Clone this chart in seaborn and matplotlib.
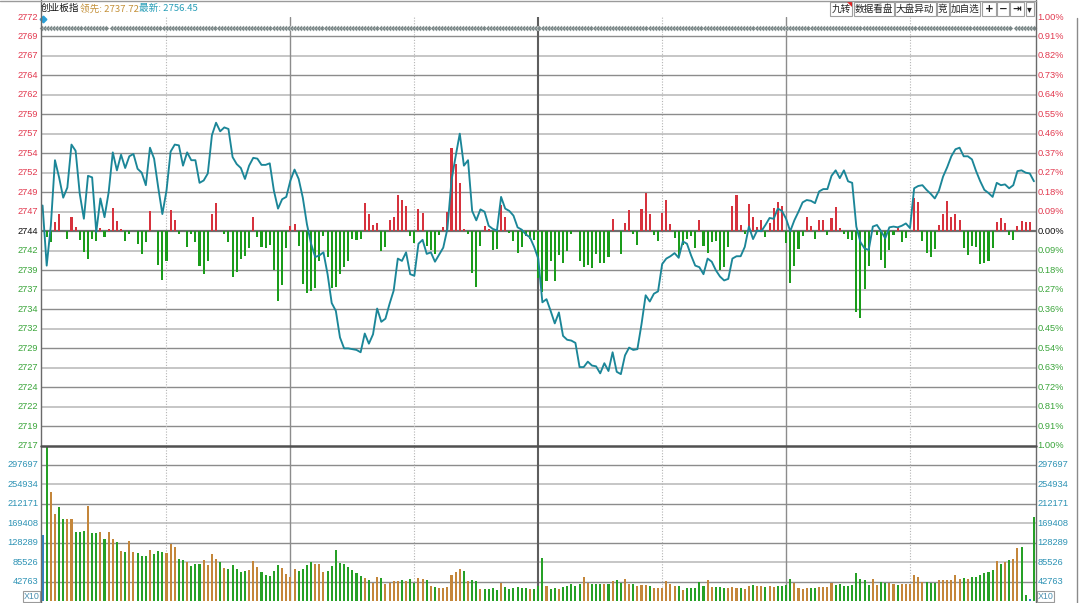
import numpy as np
import pandas as pd
import matplotlib
matplotlib.use("Agg")
import matplotlib.pyplot as plt
import seaborn as sns
from matplotlib.patches import Rectangle, Polygon
from matplotlib.lines import Line2D

sns.set_theme(style="white")
plt.rcParams['font.family'] = ['Liberation Sans', 'Noto Sans CJK SC', 'DejaVu Sans']

# ---------------- data ----------------
PREV_CLOSE = 2744.3
PCT_RANGE = 27.44          # 1.00 % of previous close

price = [
    2747.6, 2739.9, 2745.0, 2753.4, 2751.2, 2748.6, 2749.9, 2755.4, 2754.6, 2749.1,
    2745.9, 2751.4, 2751.2, 2744.2, 2748.5, 2746.1, 2749.3, 2754.4, 2752.1, 2754.1,
    2752.4, 2753.9, 2754.2, 2752.3, 2751.8, 2750.2, 2755.0, 2753.6, 2749.9, 2746.5,
    2749.5, 2754.5, 2755.4, 2755.3, 2752.7, 2754.4, 2753.4, 2753.4, 2750.5, 2750.8,
    2751.7, 2756.6, 2758.2, 2757.1, 2757.6, 2757.4, 2753.8, 2752.9, 2752.4, 2751.0,
    2752.7, 2753.7, 2753.6, 2752.8, 2752.8, 2753.0, 2749.5, 2747.2, 2748.4, 2748.7,
    2750.8, 2752.2, 2751.0, 2748.6, 2745.2, 2742.7, 2741.0, 2741.2, 2741.6, 2738.8,
    2735.1, 2734.1, 2730.7, 2729.3, 2729.3, 2729.2, 2729.1, 2728.8, 2731.2, 2729.9,
    2731.1, 2734.4, 2732.7, 2733.1, 2735.0, 2736.7, 2740.8, 2740.5, 2741.6, 2738.8,
    2738.6, 2742.7, 2743.2, 2741.4, 2741.6, 2740.4, 2741.3, 2742.2, 2744.6, 2750.8,
    2753.9, 2756.8, 2752.7, 2753.4, 2746.9, 2745.7, 2747.1, 2746.8, 2745.0, 2744.6,
    2744.4, 2748.7, 2747.2, 2746.9, 2746.3, 2744.8, 2744.5, 2743.9, 2743.5, 2742.3,
    2740.8, 2735.2, 2735.6, 2734.1, 2732.5, 2733.9, 2730.9, 2730.4, 2730.3, 2730.0,
    2726.9, 2726.9, 2727.6, 2727.1, 2727.0, 2726.1, 2727.4, 2726.4, 2728.8, 2726.3,
    2726.0, 2728.4, 2729.4, 2729.1, 2729.2, 2732.4, 2736.1, 2735.3, 2736.3, 2736.6,
    2740.1, 2740.8, 2741.1, 2741.5, 2740.9, 2743.0, 2742.7, 2741.2, 2739.9, 2739.7,
    2738.8, 2740.8, 2740.4, 2739.3, 2738.5, 2738.0, 2738.2, 2740.8, 2741.1, 2741.1,
    2742.3, 2744.9, 2743.3, 2744.4, 2744.3, 2745.1, 2746.0, 2745.9, 2747.2, 2746.9,
    2745.9, 2744.3, 2745.7, 2746.8, 2748.0, 2748.3, 2748.2, 2747.9, 2749.4, 2749.7,
    2749.7, 2751.4, 2752.1, 2751.1, 2752.1, 2750.7, 2750.5, 2744.9, 2742.9, 2742.1,
    2741.9, 2744.9, 2745.1, 2744.3, 2743.4, 2744.8, 2744.9, 2744.8, 2745.0, 2745.3,
    2744.7, 2749.8, 2750.1, 2750.2, 2749.6, 2749.1, 2748.5, 2749.5, 2751.3, 2752.5,
    2753.9, 2754.8, 2755.0, 2753.9, 2753.9, 2753.5, 2752.0, 2750.7, 2749.6, 2749.2,
    2748.7, 2750.5, 2750.2, 2750.3, 2749.8, 2750.2, 2752.0, 2752.1, 2751.8, 2751.7,
    2750.7]

# breadth (lead) bars: minute index and value relative to previous close (points)
breadth_idx = [
    1, 2, 3, 4, 6, 7, 8, 9, 10, 11, 12, 13, 14, 15, 16, 17, 18, 19, 20, 21,
    23, 24, 25, 26, 28, 29, 30, 31, 32, 33, 35, 36, 37, 38, 39, 40, 41, 42, 44, 45,
    46, 47, 48, 49, 50, 51, 52, 53, 54, 55, 56, 57, 58, 59, 60, 61, 62, 63, 64, 65,
    66, 67, 68, 69, 70, 71, 72, 73, 74, 75, 76, 77, 78, 79, 80, 81, 82, 83, 84, 85,
    86, 87, 88, 89, 90, 91, 92, 93, 94, 95, 96, 97, 98, 99, 100, 101, 102, 103, 104, 105,
    106, 107, 108, 109, 110, 111, 112, 113, 114, 115, 116, 117, 118, 119, 120, 121, 122, 123, 124, 125,
    126, 127, 128, 130, 131, 132, 133, 134, 135, 136, 137, 138, 140, 141, 142, 143, 144, 145, 146, 147,
    148, 149, 150, 151, 152, 153, 154, 155, 156, 157, 158, 159, 160, 161, 162, 163, 164, 165, 166, 167,
    168, 169, 170, 171, 172, 173, 174, 175, 176, 177, 178, 179, 180, 181, 182, 183, 184, 185, 186, 187,
    188, 189, 190, 191, 192, 193, 194, 195, 196, 197, 198, 199, 200, 202, 203, 204, 205, 206, 207, 208,
    209, 211, 212, 213, 214, 215, 216, 217, 218, 219, 220, 221, 222, 223, 224, 225, 226, 227, 228, 229,
    230, 231, 232, 233, 234, 235, 236, 237, 238, 239]
breadth_val = [
    -0.78, -1.43, 1.15, 2.23, -0.98, 1.80, 0.60, -1.13, -2.70, -3.55, -0.98, -1.20, 0.43, -0.78, 0.23, 2.95, 1.25, 0.30, -1.20, -0.35,
    -1.63, -2.90, -1.33, 2.58, -4.33, -6.25, -3.78, 2.75, 1.38, -0.35, -1.98, -0.35, -1.43, -4.40, -5.48, -3.78, 2.15, 3.65, -0.35, -1.43,
    -5.83, -5.18, -3.55, -3.13, -2.15, 1.88, -0.78, -1.98, -2.15, -1.75, -4.98, -8.90, -6.85, -2.15, 0.73, 0.95, -1.85, -6.78, -7.95, -7.70,
    -7.28, -3.78, -0.55, -3.35, -7.28, -7.10, -5.48, -4.55, -3.78, -0.98, -1.13, -0.98, 3.65, 2.23, 0.85, 1.03, -2.48, -1.98, 1.38, 1.80,
    4.70, 4.03, 3.18, -0.55, -1.50, 2.88, 2.35, -1.93, -2.40, -2.90, -0.43, 0.53, 2.45, 10.65, 8.65, 6.18, 0.30, -0.35, -5.40, -7.20,
    -1.85, 0.65, 0.30, -2.40, -2.28, 3.30, 1.88, -0.25, -1.20, -2.83, -1.98, -0.55, -0.98, -1.13, -6.00, -7.75, -6.33, -3.75, -6.33, -3.10,
    -4.10, -2.58, -0.30, -3.83, -4.53, -4.28, -4.70, -2.90, -4.10, -4.10, -3.33, 1.55, -2.90, 1.08, 2.73, -0.30, -1.80, 2.85, 4.88, 2.20,
    -0.43, -1.25, 2.38, 4.00, 0.90, -0.83, -3.23, -1.80, -0.95, -0.65, -2.10, 1.43, -1.85, -2.83, -1.33, -1.20, -4.98, -4.63, -2.05, 3.25,
    4.58, 0.85, -0.35, 3.43, 1.80, 0.60, 1.38, -0.78, 1.03, 2.95, 3.73, 3.20, -1.50, -6.65, -4.40, -2.25, -0.65, 1.78, 0.65, -0.95,
    1.43, 1.43, -0.53, 1.65, 3.15, 0.43, -0.30, -0.95, -1.18, -10.30, -11.08, -7.43, -4.48, -0.53, -3.63, -4.75, -2.38, -0.53, 0.48, -1.38,
    -0.83, 4.23, 3.80, -1.25, -2.75, -3.33, -2.25, 0.78, 2.15, 3.93, 1.85, 2.20, 1.43, -2.10, -3.10, -1.90, -2.03, -4.18, -4.10, -3.83,
    -2.15, 1.13, 1.65, 1.08, -0.53, -1.08, 0.70, 1.30, 1.20, 1.20]

volume = [
    145500, 360000, 239300, 190900, 207100, 180700, 180700, 180700, 151300, 151300,
    154300, 210000, 149100, 149100, 152800, 136700, 151300, 136700, 129300, 110200,
    107300, 133000, 108000, 105800, 100000, 98500, 111700, 103600, 109500, 107300,
    106600, 124900, 118300, 93400, 90400, 86000, 77200, 81600, 81600, 90400,
    80200, 103600, 93400, 86000, 72800, 71400, 78700, 71400, 64000, 65500,
    68400, 88200, 74300, 64000, 56700, 55200, 67000, 78700, 72800, 59600,
    53800, 69900, 67000, 69900, 80200, 86000, 81600, 81600, 64000, 65500,
    77200, 111700, 84600, 81600, 74300, 68000, 62000, 54300, 49900, 46900,
    39600, 52800, 51300, 38100, 39600, 43300, 43300, 45500, 43300, 47700,
    39600, 51300, 49100, 45500, 32300, 30800, 29300, 27900, 30800, 56500,
    63800, 70400, 66000, 43300, 46900, 44000, 27100, 26400, 26400, 29300,
    23500, 39600, 30800, 26400, 27900, 31500, 29300, 27900, 26400, 26400,
    32300, 95400, 32300, 26400, 29300, 26400, 30800, 34000, 36700, 33000,
    38100, 52800, 39600, 38100, 36700, 36700, 36700, 38100, 43300, 45500,
    39600, 47700, 38100, 36700, 33000, 34500, 34500, 33000, 27900, 27900,
    27900, 44700, 38100, 32300, 33000, 24900, 27900, 29300, 29300, 41800,
    33000, 45500, 30800, 30800, 30800, 29300, 27900, 30800, 29300, 29300,
    26400, 32300, 35900, 32300, 33000, 30800, 32300, 30800, 32300, 33500,
    36200, 48600, 39100, 28800, 27400, 28800, 28800, 28800, 31800, 31800,
    31800, 39100, 34700, 36900, 33200, 33200, 34700, 61100, 47900, 46400,
    34700, 48600, 36200, 42000, 39100, 39100, 37600, 34700, 37600, 37600,
    37600, 57400, 53800, 42800, 42800, 39100, 40600, 45700, 45700, 45700,
    47200, 56700, 48600, 50800, 48600, 53000, 53000, 57400, 61100, 64000,
    68400, 88200, 81600, 85300, 91200, 93400, 116800, 119800, 13400, 3900,
    184300]

# o = up minute, g = down minute, b = auction / flat
volume_dir = "".join([
    "bgooggoogg", "goggogoogo", "googggoggg", "oooggogggo", "ooogoggggg",
    "ooogggggoo", "ooggggooog", "ggggggggog", "oogoooogog", "googogoooo",
    "oogoggoggg", "goggggggog", "ggoggogggg", "googggogog", "googooogoo",
    "oooogogggg", "googggooog", "oogoogoogg", "ggooooggoo", "oogggggggg",
    "googgoogoo", "oooogggooo", "ooogoggggg", "gogogooggb", "g"])

LEFT_LABELS = ['2772', '2769', '2767', '2764', '2762', '2759', '2757', '2754', '2752', '2749', '2747', '2744',
               '2742', '2739', '2737', '2734', '2732', '2729', '2727', '2724', '2722', '2719', '2717']
RIGHT_LABELS = ['1.00%', '0.91%', '0.82%', '0.73%', '0.64%', '0.55%', '0.46%', '0.37%', '0.27%', '0.18%', '0.09%', '0.00%',
                '0.09%', '0.18%', '0.27%', '0.36%', '0.45%', '0.54%', '0.63%', '0.72%', '0.81%', '0.91%', '1.00%']
VOL_STEP = 42763
VOL_LABELS = ['42763', '85526', '128289', '169408', '212171', '254934', '297697']

N_MIN = len(price)
minute = np.arange(N_MIN)
df_price = pd.DataFrame({'minute': minute, 'price': price})

# ---------------- style constants ----------------
RED = '#d6323d'
GREEN_BAR = '#1a9c1a'
VOL_GREEN = '#26a026'
VOL_ORANGE = '#c4863a'
VOL_BLUE = '#2f86c0'
LINE_TEAL = '#1b8698'
LBL_RED = '#e23a50'
LBL_GREEN = '#3aa53a'
LBL_TEAL = '#2e93b5'
GRID_DARK = '#8c8c8c'
GRID_LIGHT = '#c6c6c6'

W, H = 1080, 603
fig = plt.figure(figsize=(W / 100, H / 100), dpi=100)
fig.patch.set_facecolor('white')


def fx(px):
    return px / W


def fy(py):
    return 1 - py / H


X0, X1 = 40.5, 1036.0
PY0, PY1 = 17.0, 445.5
VY1 = 601.0

ax = fig.add_axes([fx(X0), fy(PY1), fx(X1) - fx(X0), (PY1 - PY0) / H])
axv = fig.add_axes([fx(X0), fy(VY1), fx(X1) - fx(X0), (VY1 - PY1) / H])

for a in (ax, axv):
    a.set_facecolor('none')
    for s in a.spines.values():
        s.set_visible(False)
    a.set_xticks([])
    a.set_yticks([])
    a.set_xlim(-0.5, N_MIN - 0.5)

STEP = PCT_RANGE / 11.0
ax.set_ylim(PREV_CLOSE - PCT_RANGE, PREV_CLOSE + PCT_RANGE)
axv.set_ylim(0, 8 * VOL_STEP)

# horizontal grid - price panel
for lvl in range(-10, 11):
    y = PREV_CLOSE + lvl * STEP
    if lvl == 0:
        ax.axhline(y, color='#6e6e6e', lw=1.6, zorder=1)
    elif lvl % 2 == 0:
        ax.axhline(y, color=GRID_DARK, lw=1.0, zorder=0)
    else:
        ax.axhline(y, color=GRID_LIGHT, lw=1.4, zorder=0)

# horizontal grid - volume panel
for k in range(1, 8):
    if k % 2 == 1:
        axv.axhline(k * VOL_STEP, color=GRID_DARK, lw=1.0, zorder=0)
    else:
        axv.axhline(k * VOL_STEP, color=GRID_LIGHT, lw=1.4, zorder=0)

# vertical grid
for a in (ax, axv):
    for m in (30, 90, 150, 210):
        a.axvline(m, color='#b4b4b4', lw=0.8, ls=(0, (1, 1.5)), zorder=0)
    for m in (60, 180):
        a.axvline(m, color=GRID_DARK, lw=1.0, zorder=0)
    a.axvline(120, color='#5e5e5e', lw=1.5, zorder=0)

# breadth bars
bcols = [RED if v > 0 else GREEN_BAR for v in breadth_val]
ax.bar(breadth_idx, breadth_val, bottom=PREV_CLOSE, width=0.5, color=bcols,
       linewidth=0, zorder=2)

# price line
sns.lineplot(data=df_price, x='minute', y='price', ax=ax, color=LINE_TEAL,
             lw=1.35, zorder=4, legend=False)
ax.set_xlabel('')
ax.set_ylabel('')
ax.set_xticks([])
ax.set_yticks([])
ax.set_xlim(-0.5, N_MIN - 0.5)
ax.set_ylim(PREV_CLOSE - PCT_RANGE, PREV_CLOSE + PCT_RANGE)

# volume bars
cmap = {'o': VOL_ORANGE, 'g': VOL_GREEN, 'b': VOL_BLUE}
vd = (volume_dir + 'g' * N_MIN)[:N_MIN]
vcols = [cmap[c] for c in vd]
axv.bar(minute, volume, width=0.5, color=vcols, linewidth=0, zorder=2)
axv.set_xlim(-0.5, N_MIN - 0.5)
axv.set_ylim(0, 8 * VOL_STEP)

# diamond row (status markers) near top of price panel
xt = ax.get_xaxis_transform()
for start, stop in ((-0.2, 15.6), (16.7, 234.5), (235.6, 240.5)):
    xs = np.arange(start, stop, 0.74)
    ax.plot(xs, np.full(len(xs), 0.975), transform=xt, ls='none', marker='D',
            ms=2.9, color='#7a8787', mec='white', mew=0.25, zorder=5, clip_on=False)
ax.plot([0.1], [0.995], transform=xt, ls='none', marker='D', ms=3.4,
        color='#2a9fd6', zorder=6, clip_on=False)

# price labels
yt = ax.get_yaxis_transform()
for i, (ll, rl) in enumerate(zip(LEFT_LABELS, RIGHT_LABELS)):
    lvl = 11 - i
    y = PREV_CLOSE + lvl * STEP
    c = LBL_RED if lvl > 0 else ('#111111' if lvl == 0 else LBL_GREEN)
    ax.text(-0.0022, y, ll, transform=yt, ha='right', va='center', fontsize=6.7,
            color=c, clip_on=False)
    ax.text(1.0015, y, rl, transform=yt, ha='left', va='center', fontsize=6.7,
            color=c, clip_on=False)

# volume labels
ytv = axv.get_yaxis_transform()
for k, lab in enumerate(VOL_LABELS, start=1):
    axv.text(-0.0022, k * VOL_STEP, lab, transform=ytv, ha='right', va='center',
             fontsize=6.7, color=LBL_TEAL, clip_on=False)
    axv.text(1.0015, k * VOL_STEP, lab, transform=ytv, ha='left', va='center',
             fontsize=6.7, color=LBL_TEAL, clip_on=False)

# frame lines
fig.add_artist(Line2D([fx(X0), fx(X0)], [fy(0), fy(603)], color='#6a6a6a', lw=1.0))
fig.add_artist(Line2D([fx(X1), fx(X1)], [fy(0), fy(603)], color='#6a6a6a', lw=1.0))
fig.add_artist(Line2D([fx(0), fx(X1)], [fy(0.6), fy(0.6)], color='#9a9a9a', lw=1.0))
fig.add_artist(Line2D([fx(X0), fx(X1)], [fy(PY1), fy(PY1)], color='#505050', lw=1.8))
fig.add_artist(Line2D([fx(1076.5), fx(1076.5)], [fy(18), fy(603)], color='#8a8a8a', lw=1.0))

# X10 boxes
for (bx0, bx1) in ((22.5, 40), (1036.5, 1054)):
    fig.add_artist(Rectangle((fx(bx0), fy(601.5)), fx(bx1) - fx(bx0), (601.5 - 590.5) / H,
                             facecolor='white', edgecolor='#9a9a9a', lw=0.8))
    fig.text(fx((bx0 + bx1) / 2), fy(596.2), 'X10', ha='center', va='center',
             fontsize=6.4, color='#4a8fb0')

# header
CJK = ['Noto Sans CJK SC', 'DejaVu Sans']
fig.text(fx(41), fy(8.8), '创业板指', ha='left', va='center', fontsize=6.9,
         color='#111111', family=CJK)
fig.text(fx(80.5), fy(8.8), '领先: 2737.72', ha='left', va='center', fontsize=6.9,
         color='#c4913a', family=CJK)
fig.text(fx(139), fy(8.8), '最新: 2756.45', ha='left', va='center', fontsize=6.9,
         color='#2a9fb8', family=CJK)

# toolbar buttons
buttons = [('九转', 830, 852), ('数据看盘', 853.5, 893.5), ('大盘异动', 895, 935.5),
           ('竞', 937, 948.5), ('加自选', 950.5, 980.5), ('+', 982, 995.5),
           ('−', 997, 1008.5), ('⇥', 1010, 1024), ('▾', 1025.5, 1034)]
for lab, bx0, bx1 in buttons:
    fig.add_artist(Rectangle((fx(bx0), fy(15.5)), fx(bx1) - fx(bx0), 13.5 / H,
                             facecolor='white', edgecolor='#a0a0a0', lw=0.8))
    bold = lab in ('+', '−', '⇥')
    fam = ['DejaVu Sans'] if lab in ('+', '−', '⇥', '▾') else CJK
    fig.text(fx((bx0 + bx1) / 2), fy(8.8), lab, ha='center', va='center',
             fontsize=6.9 if not bold else 7.5, color='#222222', family=fam,
             fontweight='bold' if bold else 'normal')
fig.add_artist(Polygon([(fx(847), fy(1.5)), (fx(852), fy(1.5)), (fx(852), fy(6.5))],
                       closed=True, facecolor='#e02020', edgecolor='none'))

fig.savefig('out.png', dpi=100, facecolor='white')
